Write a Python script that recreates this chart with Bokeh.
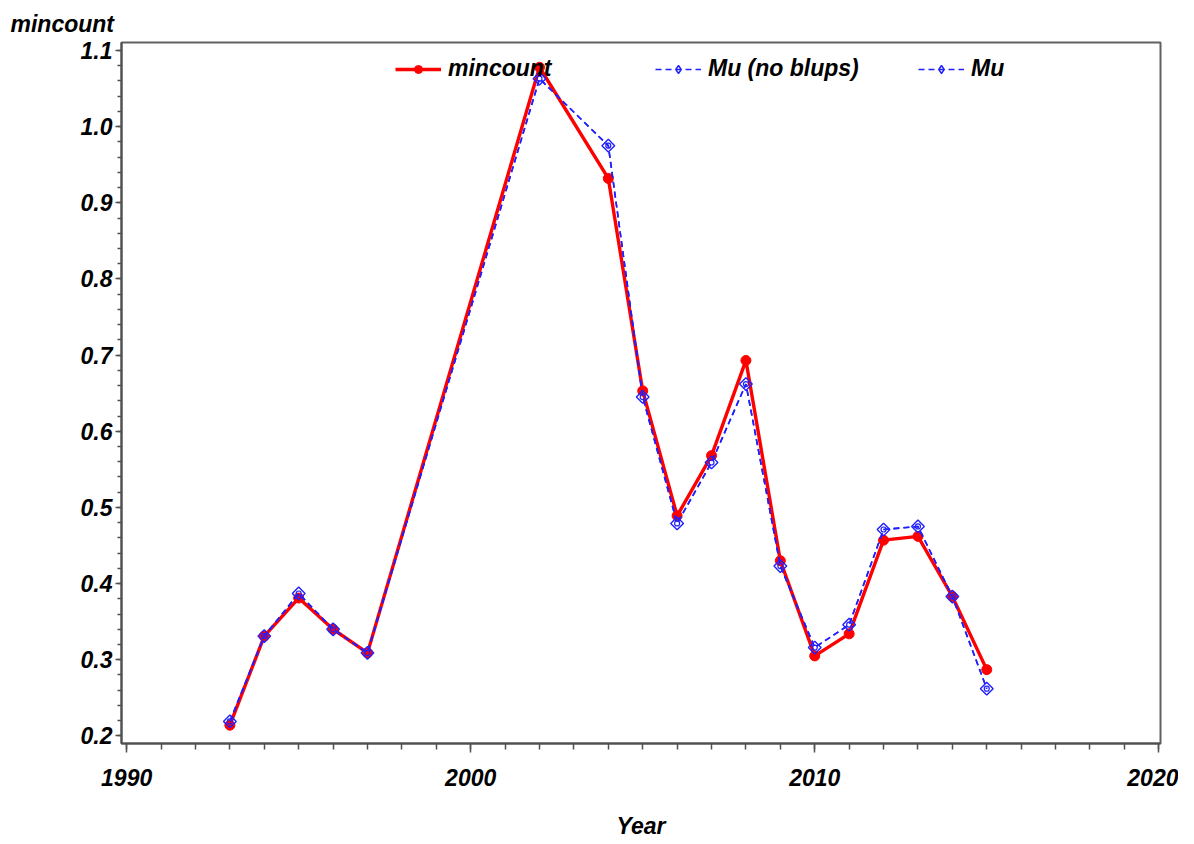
import math
from bokeh.plotting import figure
from bokeh.models import FixedTicker, NumeralTickFormatter, Range1d, Legend, LegendItem
from bokeh.embed import file_html
from bokeh.resources import INLINE

years = [1993, 1994, 1995, 1996, 1997, 2002, 2004, 2005, 2006, 2007, 2008,
         2009, 2010, 2011, 2012, 2013, 2014, 2015]
mincount = [0.214, 0.331, 0.381, 0.340, 0.309, 1.078, 0.932, 0.653, 0.489, 0.568, 0.693,
            0.430, 0.305, 0.334, 0.457, 0.462, 0.383, 0.287]
mu_noblups = [0.219, 0.331, 0.387, 0.340, 0.309, 1.063, 0.975, 0.645, 0.479, 0.559, 0.662,
              0.423, 0.316, 0.346, 0.471, 0.475, 0.383, 0.262]
mu = [0.219, 0.331, 0.387, 0.340, 0.309, 1.063, 0.975, 0.645, 0.479, 0.559, 0.662,
      0.423, 0.316, 0.346, 0.471, 0.475, 0.383, 0.262]

x_major = [1990, 2000, 2010, 2020]
x_minor = list(range(1990, 2021))
y_major = [0.2, 0.3, 0.4, 0.5, 0.6, 0.7, 0.8, 0.9, 1.0, 1.1]
y_minor = [round(0.2 + 0.02 * i, 2) for i in range(46)]

FONT = "Liberation Sans"
FS = "23px"
RED = "#ff0000"
BLUE = "#2020ff"

p = figure(width=1178, height=844, output_backend="svg", toolbar_location=None,
           x_range=Range1d(1989.85, 2020.05), y_range=Range1d(0.19, 1.1105),
           min_border_left=121, min_border_right=18, min_border_top=42, min_border_bottom=101)
p.grid.visible = False
p.outline_line_color = "#606060"
p.outline_line_width = 2

# Title acting as vertical-axis label
p.title.text = "mincount"
p.title.align = "left"
p.title.offset = -111
p.title.standoff = 12
p.title.text_font = FONT
p.title.text_font_size = FS
p.title.text_font_style = "bold italic"
p.title.text_color = "black"

for ax in (p.xaxis[0], p.yaxis[0]):
    ax.axis_line_color = "#505050"
    ax.axis_line_width = 2
    ax.major_tick_line_color = "#505050"
    ax.minor_tick_line_color = "#505050"
    ax.major_tick_line_width = 1.5
    ax.minor_tick_line_width = 1.5
    ax.major_tick_in = 0
    ax.minor_tick_in = 0
    ax.major_label_text_font = FONT
    ax.major_label_text_font_size = FS
    ax.major_label_text_font_style = "bold italic"
    ax.major_label_text_color = "black"

p.xaxis.ticker = FixedTicker(ticks=x_major, minor_ticks=x_minor)
p.xaxis.major_tick_out = 9
p.xaxis.minor_tick_out = 6
p.xaxis.major_label_standoff = 16
p.xaxis.axis_label = "Year"
p.xaxis.axis_label_text_font = FONT
p.xaxis.axis_label_text_font_size = FS
p.xaxis.axis_label_text_font_style = "bold italic"
p.xaxis.axis_label_text_color = "black"
p.xaxis.axis_label_standoff = 24

p.yaxis.ticker = FixedTicker(ticks=y_major, minor_ticks=y_minor)
p.yaxis.formatter = NumeralTickFormatter(format="0.0")
p.yaxis.major_tick_out = 6
p.yaxis.minor_tick_out = 4
p.yaxis.major_label_standoff = 3

r_line = p.line(years, mincount, line_color=RED, line_width=3.4)
r_pts = p.scatter(years, mincount, marker="circle", size=10, fill_color=RED, line_color=RED)

b_line1 = p.line(years, mu_noblups, line_color=BLUE, line_width=1.6, line_dash="6 4")
b_pts1 = p.scatter(years, mu_noblups, marker="square", angle=math.pi / 4, size=9,
                   fill_color=None, line_color=BLUE, line_width=1.4)
b_line2 = p.line(years, mu, line_color=BLUE, line_width=1.6, line_dash="6 4")
b_pts2 = p.scatter(years, mu, marker="circle", size=5, fill_color=None,
                   line_color=BLUE, line_width=1.2)

# legend-only key glyph (an off-plot NaN point): upright diamond like the reference key
key_diamond = p.scatter(x=[float("nan")], y=[float("nan")], marker="diamond", size=15,
                        fill_color=None, line_color=BLUE, line_width=1.4)


def make_legend(label, renderers, loc):
    lg = Legend(items=[LegendItem(label=label, renderers=renderers)], location=loc,
                orientation="horizontal", glyph_width=46, glyph_height=20,
                label_standoff=7, padding=0, margin=0, spacing=0,
                border_line_color=None, background_fill_alpha=0,
                label_text_font=FONT, label_text_font_size=FS,
                label_text_font_style="bold italic", label_text_color="black")
    p.add_layout(lg)


make_legend("mincount", [r_line, r_pts], (274, 661))
make_legend("Mu (no blups)", [b_line1, key_diamond], (534, 661))
make_legend("Mu", [b_line2, key_diamond], (797, 661))

open("out.html", "w").write(file_html(p, INLINE))
